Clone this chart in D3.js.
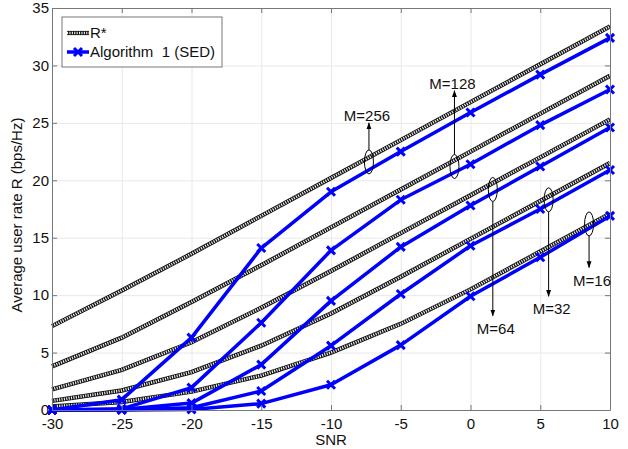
<!DOCTYPE html>
<html>
<head>
<meta charset="utf-8">
<script src="https://cdn.jsdelivr.net/npm/d3@7"></script>
<style>
  body { margin: 0; background: #fff; }
  svg text { font-family: "Liberation Sans", Arial, sans-serif; fill: #111; }
  .axis path, .axis line { stroke: #777; }
  .grid line { stroke: #e8e8e8; }
  .grid path { display: none; }
</style>
</head>
<body>
<div id="chart"></div>
<script>
// data
var snr = [-30, -25, -20, -15, -10, -5, 0, 5, 10]
var xTicks = [-30, -25, -20, -15, -10, -5, 0, 5, 10]
var yTicks = [0, 5, 10, 15, 20, 25, 30, 35]
var antennas = [256, 128, 64, 32, 16]

// R* (upper bound) per M
var rStar256 = [7.3, 10.4, 13.6, 16.9, 20.2, 23.5, 26.8, 30.1, 33.4]
var rStar128 = [3.8, 6.3, 9.4, 12.6, 15.9, 19.2, 22.5, 25.8, 29.1]
var rStar64 = [1.8, 3.5, 5.9, 8.9, 12.1, 15.4, 18.7, 22.0, 25.3]
var rStar32 = [0.8, 1.7, 3.3, 5.6, 8.4, 11.6, 14.9, 18.2, 21.5]
var rStar16 = [0.3, 0.7, 1.6, 3.0, 5.0, 7.5, 10.5, 13.8, 17.1]

// Algorithm 1 (SED) per M
var alg256 = [0, 0.9, 6.3, 14.1, 19.0, 22.5, 25.9, 29.2, 32.4]
var alg128 = [0, 0.1, 1.95, 7.6, 13.9, 18.3, 21.4, 24.8, 27.9]
var alg64 = [0, 0.05, 0.6, 3.95, 9.5, 14.2, 17.8, 21.2, 24.6]
var alg32 = [0, 0.02, 0.2, 1.65, 5.6, 10.1, 14.3, 17.5, 20.9]
var alg16 = [0, 0.01, 0.05, 0.55, 2.2, 5.65, 9.9, 13.3, 16.9]

// annotation: ellipse centre (snr, rate), arrow end rate
var annLabels = ['M=256', 'M=128', 'M=64', 'M=32', 'M=16']
var annSnr = [-7.28, -1.15, 1.6, 5.6, 8.5]
var annRate = [21.6, 21.2, 19.2, 18.3, 16.2]
var annTip = [25.0, 27.8, 8.2, 9.9, 12.4]

var rStar = [rStar256, rStar128, rStar64, rStar32, rStar16]
var alg = [alg256, alg128, alg64, alg32, alg16]

var margin = { top: 8, right: 18, bottom: 39, left: 52 }
var W = 628, H = 449
var width = W - margin.left - margin.right
var height = H - margin.top - margin.bottom

var svg = d3.select('#chart').append('svg')
	.attr('width', W)
	.attr('height', H)

var g = svg.append('g')
	.attr('transform', 'translate(' + margin.left + ',' + margin.top + ')')

var x = d3.scaleLinear().domain([-30, 10]).range([0, width])
var y = d3.scaleLinear().domain([0, 35]).range([height, 0])

// grid
g.append('g')
	.attr('class', 'grid')
	.attr('transform', 'translate(0,' + height + ')')
	.call(d3.axisBottom(x).tickValues(xTicks).tickSize(-height).tickFormat(''))
g.append('g')
	.attr('class', 'grid')
	.call(d3.axisLeft(y).tickValues(yTicks).tickSize(-width).tickFormat(''))

var line = d3.line()
	.x(function(d, i) { return x(snr[i]) })
	.y(function(d) { return y(d) })

// R* curves: hatched black/white
function hatched(sel, d, w) {
	sel.append('path')
		.attr('d', d)
		.attr('fill', 'none')
		.attr('stroke', '#111')
		.attr('stroke-width', w)
	sel.append('path')
		.attr('d', d)
		.attr('fill', 'none')
		.attr('stroke', '#f4f4f4')
		.attr('stroke-width', w - 1.6)
		.attr('stroke-dasharray', '1.1,1.3')
}
rStar.forEach(function(s) {
	hatched(g, line(s), 4.4)
})

function cross(sel, cx, cy, r) {
	sel.append('path')
		.attr('d', 'M' + (cx - r) + ',' + (cy - r) + 'L' + (cx + r) + ',' + (cy + r) +
			'M' + (cx - r) + ',' + (cy + r) + 'L' + (cx + r) + ',' + (cy - r))
		.attr('stroke', '#0000ff')
		.attr('stroke-width', 3)
		.attr('fill', 'none')
}

// algorithm curves
alg.forEach(function(s) {
	g.append('path')
		.attr('d', line(s))
		.attr('fill', 'none')
		.attr('stroke', '#0000ff')
		.attr('stroke-width', 3.5)
		.attr('stroke-linejoin', 'round')
	s.forEach(function(v, i) {
		cross(g, x(snr[i]), y(v), 4)
	})
})

// axes, ticks inside
var xAxis = g.append('g')
	.attr('class', 'axis')
	.attr('transform', 'translate(0,' + height + ')')
	.call(d3.axisBottom(x).tickValues(xTicks).tickSizeInner(-5).tickSizeOuter(0).tickPadding(8))
xAxis.selectAll('text').style('font-size', '15px').text(function(d) { return d })
g.append('g')
	.attr('class', 'axis')
	.call(d3.axisTop(x).tickValues(xTicks).tickSizeInner(-5).tickSizeOuter(0).tickFormat(''))
var yAxis = g.append('g')
	.attr('class', 'axis')
	.call(d3.axisLeft(y).tickValues(yTicks).tickSizeInner(-5).tickSizeOuter(0).tickPadding(3))
yAxis.selectAll('text').style('font-size', '15px')
g.append('g')
	.attr('class', 'axis')
	.attr('transform', 'translate(' + width + ',0)')
	.call(d3.axisRight(y).tickValues(yTicks).tickSizeInner(-5).tickSizeOuter(0).tickFormat(''))
g.selectAll('.axis text').style('fill', '#111').attr('font-family', '"Liberation Sans", Arial, sans-serif')

svg.append('text')
	.attr('x', margin.left + width / 2)
	.attr('y', H - 4)
	.attr('text-anchor', 'middle')
	.style('font-size', '15px')
	.text('SNR')
svg.append('text')
	.attr('transform', 'translate(22,' + (margin.top + height / 2 + 6) + ') rotate(-90)')
	.attr('text-anchor', 'middle')
	.style('font-size', '15px')
	.text('Average user rate R (bps/Hz)')

// annotations
svg.append('defs').append('marker')
	.attr('id', 'head')
	.attr('viewBox', '0 0 10 10')
	.attr('refX', 9).attr('refY', 5)
	.attr('markerWidth', 7).attr('markerHeight', 7)
	.attr('orient', 'auto-start-reverse')
	.append('path').attr('d', 'M0,1.5L10,5L0,8.5z').attr('fill', '#000')

var ry = 12
annLabels.forEach(function(lab, i) {
	var cx = x(annSnr[i]), cy = y(annRate[i])
	var up = annTip[i] > annRate[i]
	var tip = y(annTip[i])
	g.append('ellipse')
		.attr('cx', cx).attr('cy', cy)
		.attr('rx', 4.5).attr('ry', ry)
		.attr('fill', 'none')
		.attr('stroke', '#000')
		.attr('stroke-width', 1)
	g.append('line')
		.attr('x1', cx).attr('x2', cx)
		.attr('y1', up ? cy - ry : cy + ry)
		.attr('y2', tip)
		.attr('stroke', '#000')
		.attr('stroke-width', 1)
		.attr('marker-end', 'url(#head)')
	g.append('text')
		.attr('x', cx + (up ? -2 : 3))
		.attr('y', up ? tip - 2 : tip + 18)
		.attr('text-anchor', 'middle')
		.style('font-size', '15px')
		.text(lab)
})

// legend
var leg = g.append('g').attr('transform', 'translate(10,9)')
leg.append('rect')
	.attr('width', 160).attr('height', 50)
	.attr('fill', '#fff')
	.attr('stroke', '#777')
var ls = leg.append('g').attr('transform', 'translate(5,16)')
hatched(ls, 'M0,0H22', 4.2)
ls.append('text').attr('x', 23).attr('y', 5).style('font-size', '15px').text('R*')
var la = leg.append('g').attr('transform', 'translate(5,35)')
la.append('line').attr('x1', 0).attr('x2', 22).attr('stroke', '#0000ff').attr('stroke-width', 3.5)
cross(la, 11, 0, 4)
la.append('text').attr('x', 23).attr('y', 5).style('font-size', '15px').attr('xml:space', 'preserve').text('Algorithm  1 (SED)')
</script>
</body>
</html>
